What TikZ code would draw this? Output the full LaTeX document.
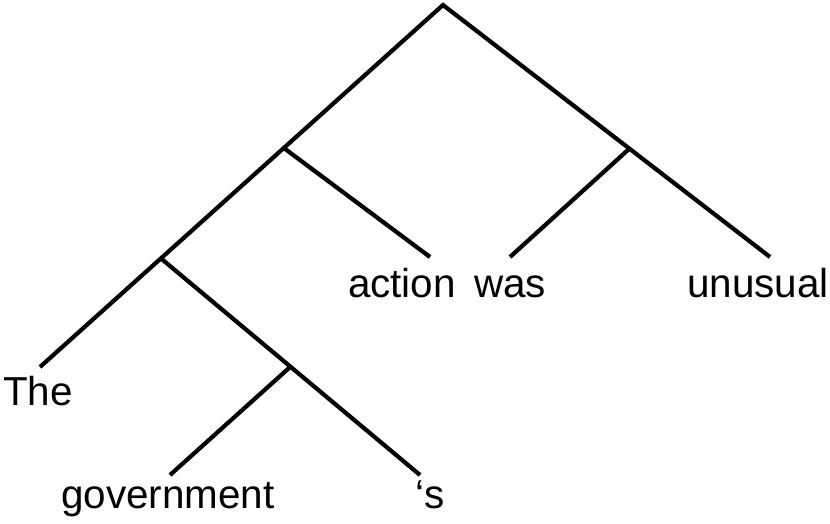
\documentclass[tikz,border=0pt]{standalone}
\usepackage{fontspec}
\setmainfont{Liberation Sans}
\usetikzlibrary{positioning,calc}
\tikzset{
  branch/.style={draw=black, line width=2.4pt},
  word/.style={font=\fontsize{23}{26}\selectfont, inner sep=0pt, anchor=base},
}
\begin{document}
\begin{tikzpicture}[x=0.02cm,y=-0.02cm]
\useasboundingbox (0,0) rectangle (830,523);
% tree nodes
\coordinate (S) at (443,5);
\coordinate (lThe) at (40,367);
\coordinate (lUnu) at (770,257);
\coordinate (NP) at ($(S)!0.395!(lThe)$);
\coordinate (VP) at ($(S)!0.57!(lUnu)$);
\coordinate (Det) at ($(S)!0.7!(lThe)$);
\coordinate (lAct) at (430,257);
\coordinate (lWas) at (510,257);
\coordinate (lPs) at (420,475);
\coordinate (Pos) at ($(Det)!0.5!(lPs)$);
\coordinate (lGov) at (170,475);
% branches
\draw[branch] (lThe) -- (S) -- (lUnu);
\draw[branch] (NP) -- (lAct);
\draw[branch] (VP) -- (lWas);
\draw[branch] (Det) -- (lPs);
\draw[branch] (Pos) -- (lGov);
% words
\node[word] (The) at (38,405) {The};
\node[word] (gov) at (168,508) {government};
\node[word] (ps) at (430,508) {‘s};
\node[word] (action) at (402,297) {action};
\node[word] (was) at (510,297) {was};
\node[word] (unusual) at (758,297) {unusual};
\end{tikzpicture}
\end{document}
